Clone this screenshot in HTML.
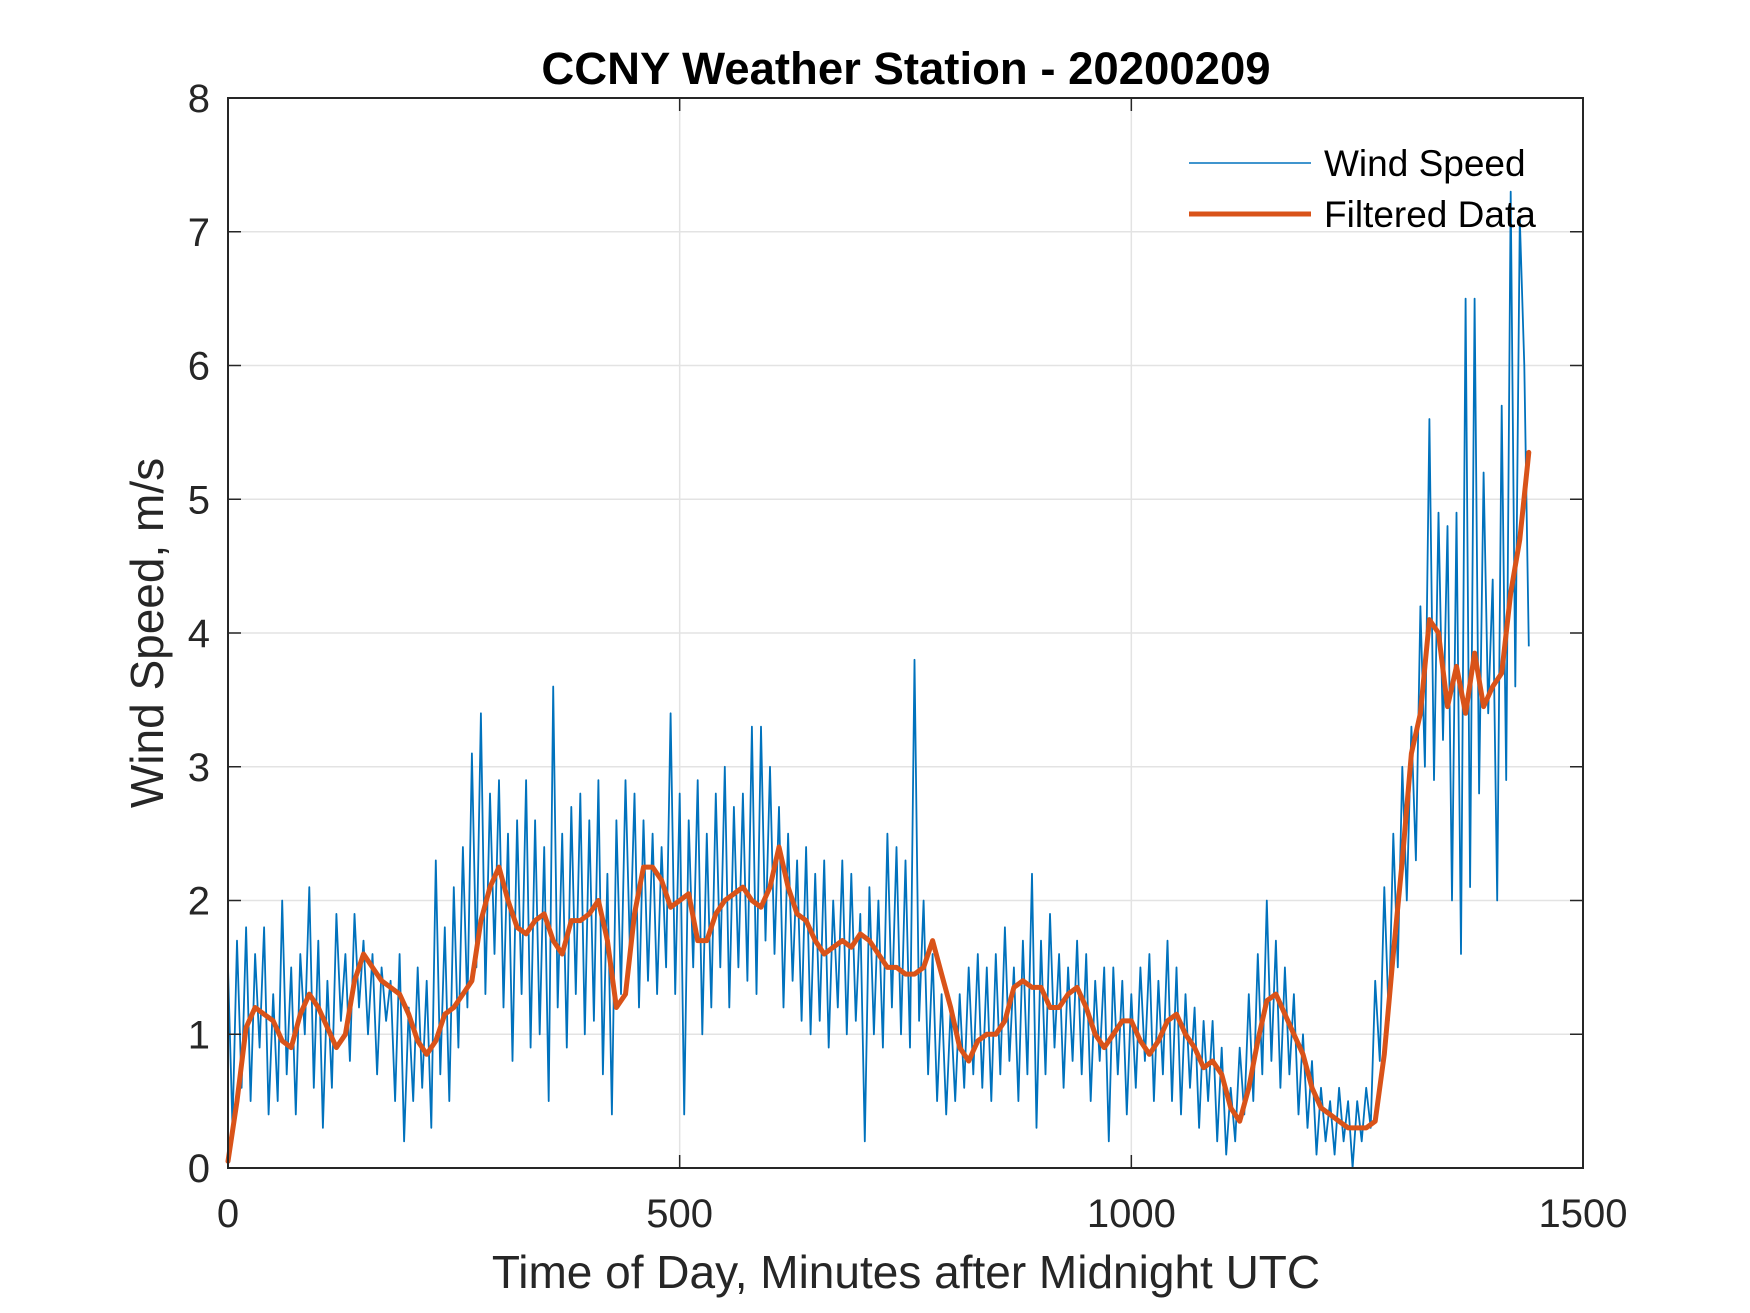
<!DOCTYPE html>
<html><head><meta charset="utf-8"><style>
html,body{margin:0;padding:0;background:#fff;}
svg{display:block;font-family:"Liberation Sans",Arial,sans-serif;}
</style></head><body>
<svg id="chart" width="1750" height="1313" viewBox="0 0 1750 1313">
<rect x="0" y="0" width="1750" height="1313" fill="#fff"/>
<g id="grid"></g>
<g id="series"></g>
<g id="axes"></g>
<text x="906" y="84" text-anchor="middle" font-size="45.5" font-weight="bold" fill="#000">CCNY Weather Station - 20200209</text>
<text x="906" y="1288" text-anchor="middle" font-size="46" fill="#262626">Time of Day, Minutes after Midnight UTC</text>
<text transform="translate(163,633) rotate(-90)" text-anchor="middle" font-size="46" fill="#262626">Wind Speed, m/s</text>
<g>
<line x1="1189" y1="163" x2="1311" y2="163" stroke="#0072BD" stroke-width="1.6"/>
<text x="1324" y="176" font-size="37" fill="#000">Wind Speed</text>
<line x1="1189" y1="214" x2="1311" y2="214" stroke="#D95319" stroke-width="5"/>
<text x="1324" y="227" font-size="37" fill="#000">Filtered Data</text>
</g>
</svg>
<script>
const xTicks = [0, 500, 1000, 1500];
const yTicks = [0, 1, 2, 3, 4, 5, 6, 7, 8];
const windStep = 5;
const windSpeed = [
1.5,0.3,1.7,0.6,1.8,0.5,1.6,0.9,1.8,0.4,
1.3,0.5,2.0,0.7,1.5,0.4,1.6,1.0,2.1,0.6,
1.7,0.3,1.4,0.6,1.9,1.1,1.6,0.8,1.9,1.2,
1.7,1.0,1.6,0.7,1.5,1.1,1.4,0.5,1.6,0.2,
1.2,0.5,1.5,0.6,1.4,0.3,2.3,0.7,1.8,0.5,
2.1,0.9,2.4,1.2,3.1,1.5,3.4,1.3,2.8,1.6,
2.9,1.2,2.5,0.8,2.6,1.3,2.9,0.9,2.6,1.0,
2.4,0.5,3.6,1.2,2.5,0.9,2.7,1.3,2.8,1.0,
2.6,1.1,2.9,0.7,2.2,0.4,2.6,1.3,2.9,1.6,
2.8,1.2,2.6,1.4,2.5,1.3,2.4,1.5,3.4,1.3,
2.8,0.4,2.6,1.5,2.9,1.0,2.5,1.2,2.8,1.5,
3.0,1.2,2.7,1.5,2.8,1.4,3.3,1.3,3.3,1.7,
3.0,1.6,2.7,1.2,2.5,1.4,2.3,1.1,2.4,1.0,
2.2,1.1,2.3,0.9,2.0,1.2,2.3,1.0,2.2,1.1,
1.9,0.2,2.1,1.0,2.0,0.9,2.5,1.2,2.4,1.0,
2.3,0.9,3.8,1.1,2.0,0.7,1.6,0.5,1.3,0.4,
1.2,0.5,1.3,0.6,1.5,0.7,1.6,0.6,1.5,0.5,
1.6,0.7,1.8,0.8,1.5,0.5,1.7,0.7,2.2,0.3,
1.7,0.7,1.9,0.9,1.6,0.6,1.5,0.8,1.7,0.7,
1.6,0.5,1.4,0.8,1.5,0.2,1.5,0.7,1.4,0.4,
1.3,0.6,1.5,0.8,1.6,0.5,1.4,0.7,1.7,0.5,
1.5,0.4,1.3,0.6,1.2,0.3,1.1,0.5,1.1,0.2,
0.9,0.1,0.6,0.2,0.9,0.4,1.3,0.5,1.6,0.7,
2.0,0.8,1.7,0.6,1.5,0.7,1.3,0.4,1.0,0.3,
0.8,0.1,0.6,0.2,0.5,0.1,0.6,0.2,0.5,0.0,
0.5,0.2,0.6,0.3,1.4,0.8,2.1,1.1,2.5,1.5,
3.0,2.0,3.3,2.3,4.2,3.0,5.6,2.9,4.9,3.2,
4.8,2.0,4.9,1.6,6.5,2.1,6.5,2.8,5.2,3.4,
4.4,2.0,5.7,2.9,7.3,3.6,7.1,6.0,3.9
];
const filteredStep = 10;
const filtered = [
0.05,0.5,1.05,1.2,1.15,1.1,0.95,0.9,1.15,1.3,
1.2,1.05,0.9,1.0,1.4,1.6,1.5,1.4,1.35,1.3,
1.15,0.95,0.85,0.95,1.15,1.2,1.3,1.4,1.85,2.1,
2.25,2.0,1.8,1.75,1.85,1.9,1.7,1.6,1.85,1.85,
1.9,2.0,1.7,1.2,1.3,1.9,2.25,2.25,2.15,1.95,
2.0,2.05,1.7,1.7,1.9,2.0,2.05,2.1,2.0,1.95,
2.1,2.4,2.1,1.9,1.85,1.7,1.6,1.65,1.7,1.65,
1.75,1.7,1.6,1.5,1.5,1.45,1.45,1.5,1.7,1.45,
1.2,0.9,0.8,0.95,1.0,1.0,1.1,1.35,1.4,1.35,
1.35,1.2,1.2,1.3,1.35,1.2,1.0,0.9,1.0,1.1,
1.1,0.95,0.85,0.95,1.1,1.15,1.0,0.9,0.75,0.8,
0.7,0.45,0.35,0.6,0.95,1.25,1.3,1.15,1.0,0.85,
0.6,0.45,0.4,0.35,0.3,0.3,0.3,0.35,0.85,1.6,
2.3,3.1,3.4,4.1,4.0,3.45,3.75,3.4,3.85,3.45,
3.6,3.7,4.3,4.7,5.35
];

const NS = "http://www.w3.org/2000/svg";
const L = 228, R = 1583, T = 98, B = 1168;
const xMax = 1500, yMax = 8;
function xs(v){ return L + (v / xMax) * (R - L); }
function ys(v){ return B - (v / yMax) * (B - T); }
function mk(tag, attrs, parent){
  const e = document.createElementNS(NS, tag);
  for (const k in attrs) e.setAttribute(k, attrs[k]);
  parent.appendChild(e);
  return e;
}
const grid = document.getElementById('grid');
const axes = document.getElementById('axes');
const series = document.getElementById('series');

xTicks.forEach(function(t){
  const x = xs(t);
  if (t > 0 && t < xMax) {
    const g = mk('line', {x1:x, y1:T, x2:x, y2:B, stroke:'#e3e3e3', 'stroke-width':1.5}, grid);
    
    
  }
  const tk1 = mk('line', {x1:x, y1:B, x2:x, y2:B-13, stroke:'#262626', 'stroke-width':1.5}, axes);
  
  
  const tk2 = mk('line', {x1:x, y1:T, x2:x, y2:T+13, stroke:'#262626', 'stroke-width':1.5}, axes);
  
  
  const lb = mk('text', {x:x, y:1227, 'text-anchor':'middle', 'font-size':40, fill:'#262626'}, axes);
  lb.textContent = t;
  
  
});
yTicks.forEach(function(t){
  const y = ys(t);
  if (t > 0 && t < yMax) {
    const g = mk('line', {x1:L, y1:y, x2:R, y2:y, stroke:'#e3e3e3', 'stroke-width':1.5}, grid);
    
    
  }
  const tk1 = mk('line', {x1:L, y1:y, x2:L+13, y2:y, stroke:'#262626', 'stroke-width':1.5}, axes);
  
  
  const tk2 = mk('line', {x1:R, y1:y, x2:R-13, y2:y, stroke:'#262626', 'stroke-width':1.5}, axes);
  
  
  const lb = mk('text', {x:210, y:y+14, 'text-anchor':'end', 'font-size':40, fill:'#262626'}, axes);
  lb.textContent = t;
  
  
});
const box = mk('rect', {x:L, y:T, width:R-L, height:B-T, fill:'none', stroke:'#262626', 'stroke-width':2}, axes);



const wp = windSpeed.map(function(v, i){ return xs(i*windStep).toFixed(1) + ',' + ys(v).toFixed(1); }).join(' ');
const wl = mk('polyline', {points:wp, fill:'none', stroke:'#0072BD', 'stroke-width':1.8, 'stroke-linejoin':'round'}, series);



const fp = filtered.map(function(v, i){ return xs(i*filteredStep).toFixed(1) + ',' + ys(v).toFixed(1); }).join(' ');
const fl = mk('polyline', {points:fp, fill:'none', stroke:'#D95319', 'stroke-width':5, 'stroke-linejoin':'round', 'stroke-linecap':'round'}, series);


</script>
</body></html>
